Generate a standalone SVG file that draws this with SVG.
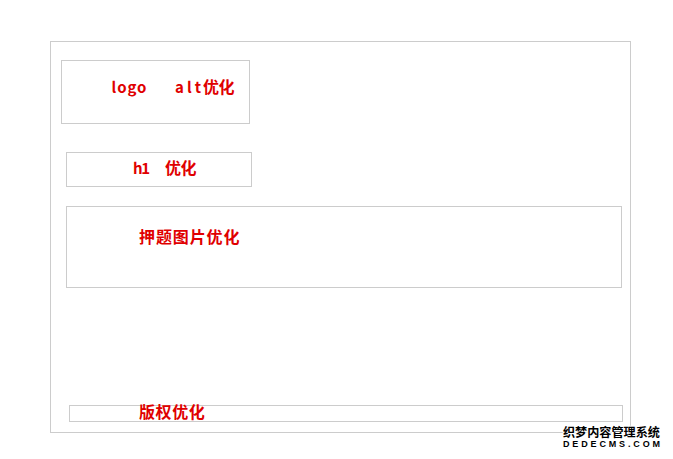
<svg xmlns="http://www.w3.org/2000/svg" width="673" height="459" viewBox="0 0 673 459">
<style>
.box{fill:none;stroke:#cccccc;stroke-width:1}
.lbl{font-family:"Noto Sans CJK SC",sans-serif;font-weight:bold;fill:#e00000;font-size:15px}
.cjk{font-family:"Noto Sans CJK SC",sans-serif;font-weight:bold;fill:#e00000;font-size:16px}
.wm{font-family:"Noto Sans CJK SC",sans-serif;font-weight:bold;fill:#000;stroke:#fff;stroke-width:2;paint-order:stroke}
</style>
<rect width="673" height="459" fill="#ffffff"/>
<g id="page"><rect class="box" x="50.5" y="41.5" width="580" height="391"/></g>
<g id="logo">
<rect class="box" x="61.5" y="60.5" width="188" height="63"/>
<text x="111.5" y="93" class="lbl" textLength="35" lengthAdjust="spacing">logo</text>
<text x="175" y="93" class="lbl" textLength="26" lengthAdjust="spacing">alt</text>
<text x="203" y="93" class="cjk" letter-spacing="-0.5">优化</text>
</g>
<g id="h1">
<rect class="box" x="66.5" y="152.5" width="185" height="34"/>
<text x="133" y="174" class="lbl" textLength="17" lengthAdjust="spacing">h1</text>
<text x="165" y="174" class="cjk" letter-spacing="-0.5">优化</text>
</g>
<g id="image">
<rect class="box" x="66.5" y="206.5" width="555" height="81"/>
<text x="139" y="243" class="cjk" letter-spacing="0.9">押题图片优化</text>
</g>
<g id="copyright">
<rect class="box" x="69.5" y="405.5" width="553" height="16"/>
<text x="139" y="417.5" class="cjk" letter-spacing="0.6">版权优化</text>
</g>
<g id="connectors"></g>
<g id="watermark">
<text x="563" y="437" class="wm" font-size="12" textLength="97" lengthAdjust="spacingAndGlyphs">织梦内容管理系统</text>
<text x="563" y="447" class="wm" font-size="9" textLength="97" lengthAdjust="spacing" style="font-family:'Liberation Sans',sans-serif">DEDECMS.COM</text>
</g>
</svg>
